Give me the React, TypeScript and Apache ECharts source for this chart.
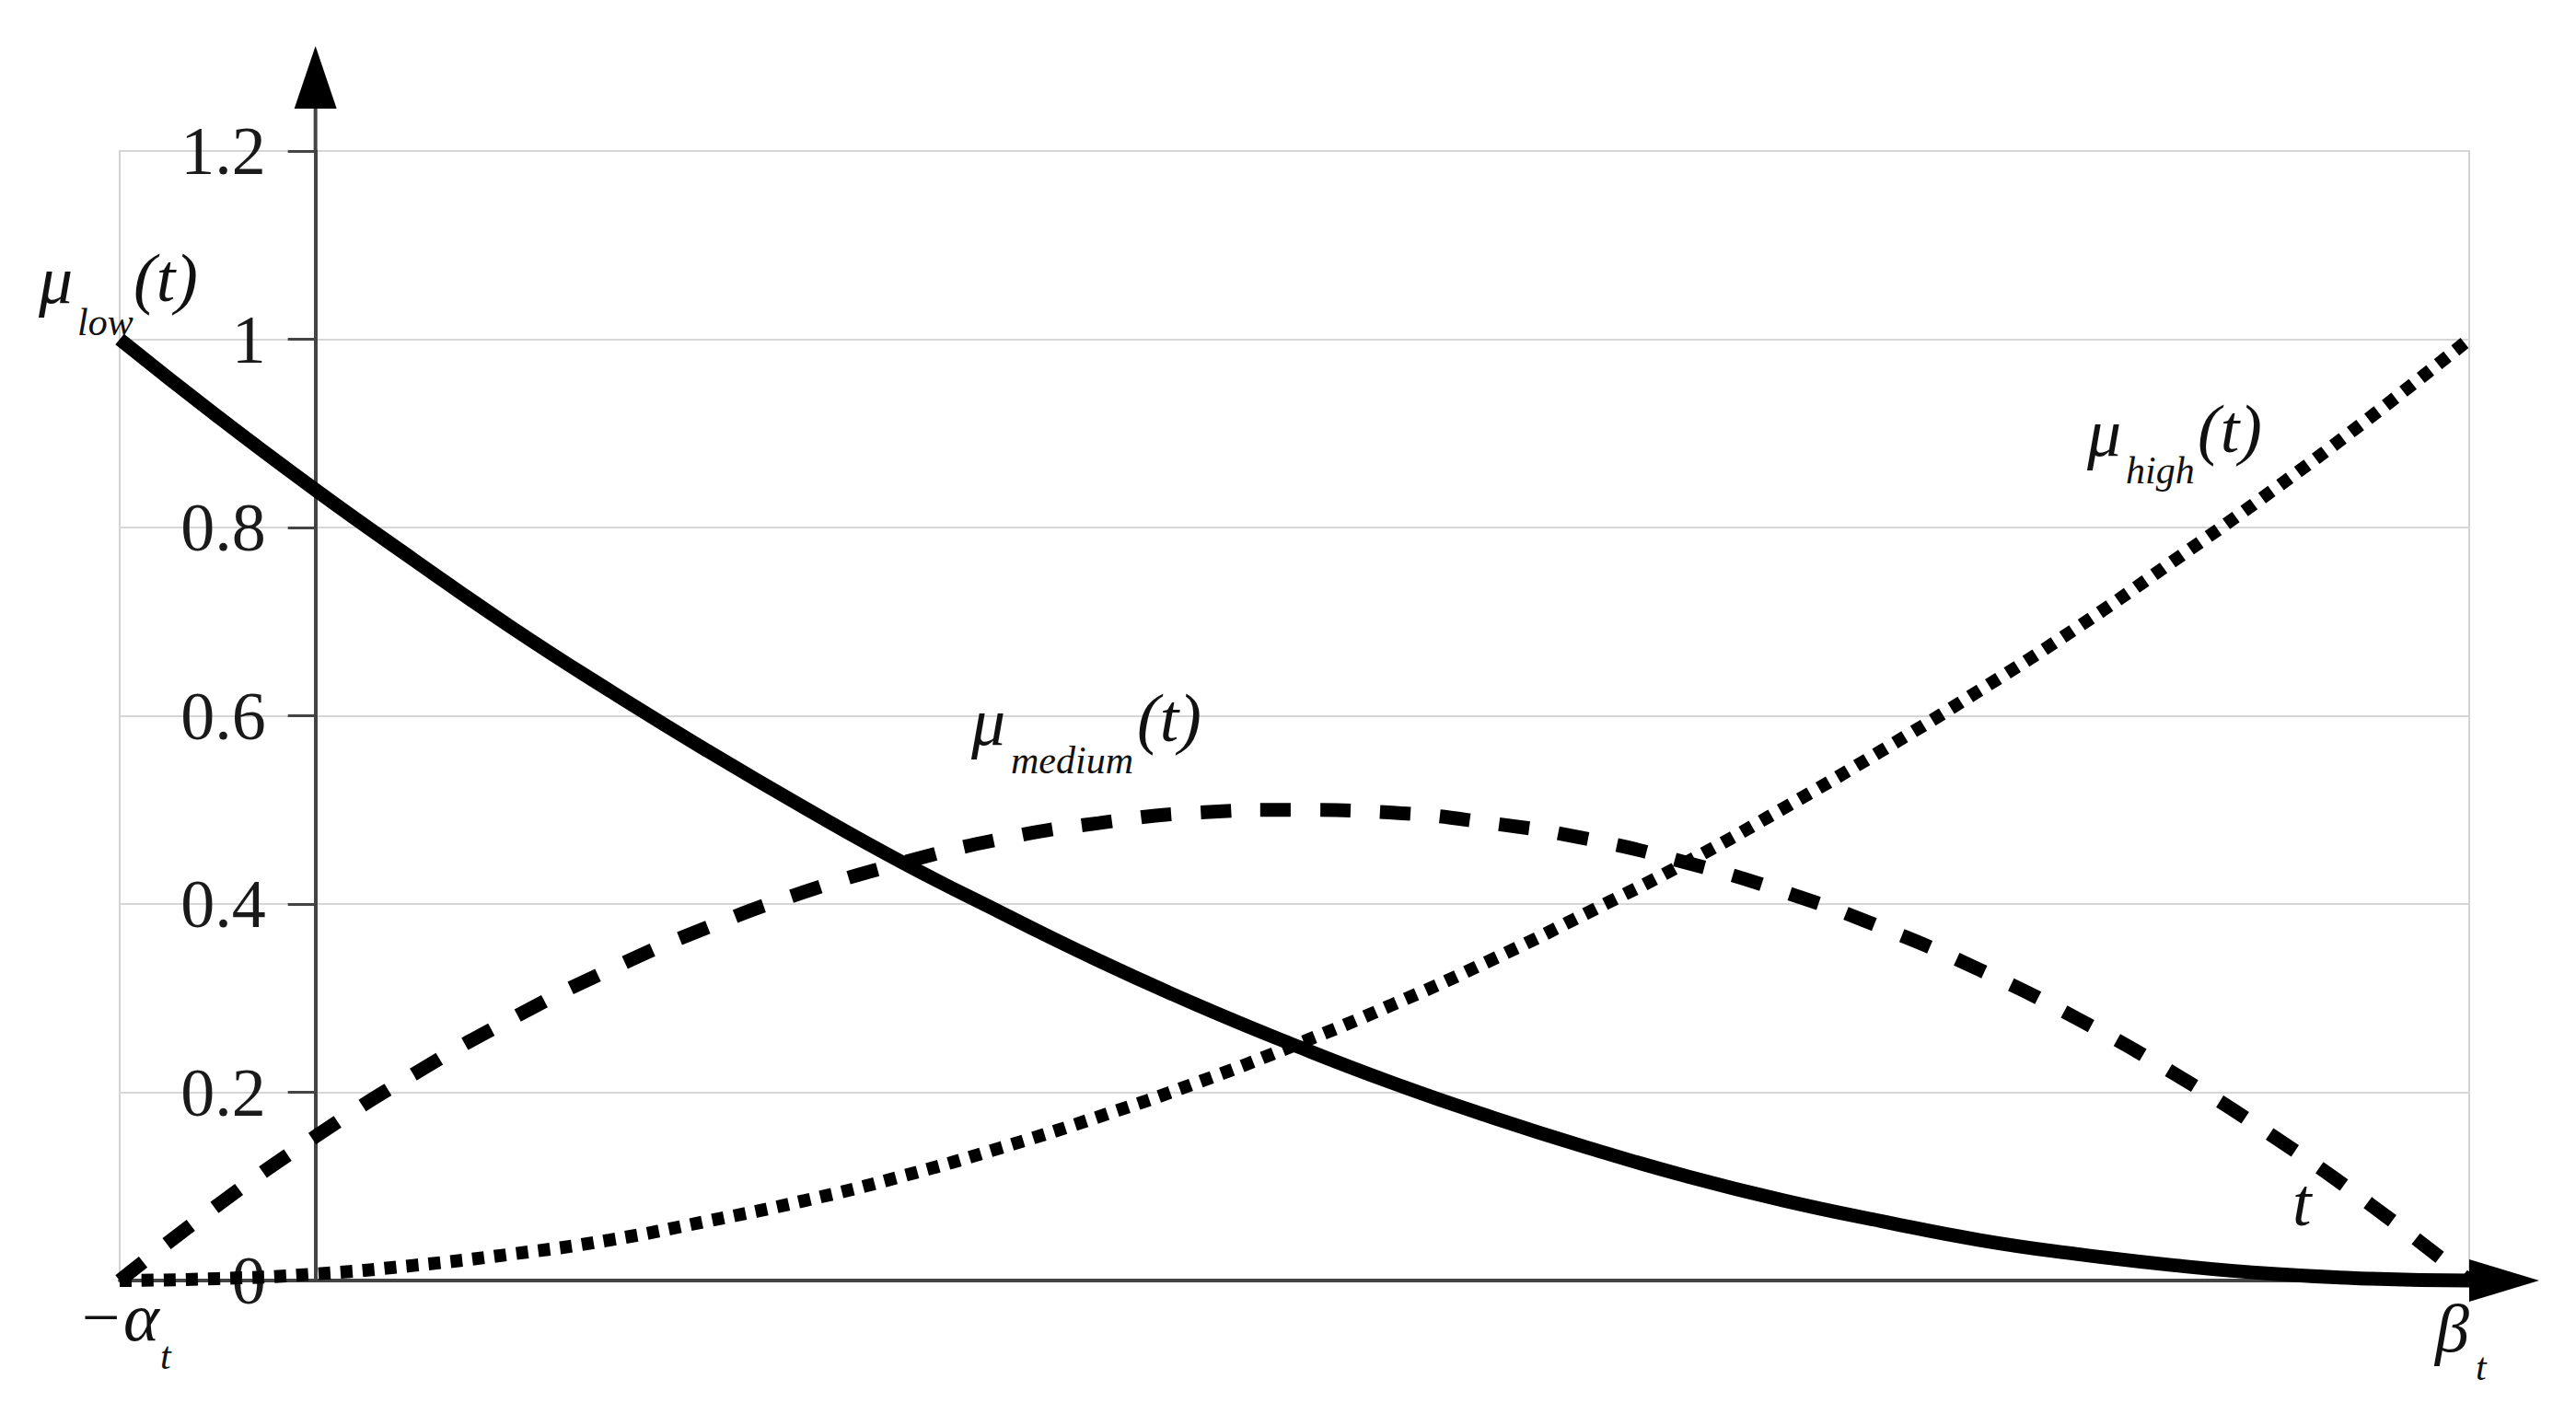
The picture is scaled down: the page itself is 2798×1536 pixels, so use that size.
import React, { useEffect, useRef } from "react";
import * as echarts from "echarts";

// t positions between -alpha_t (=-0.1) and beta_t (=1.1); y axis sits at t = 0
const tValues = [-0.1, -0.05, 0, 0.05, 0.1, 0.15, 0.2, 0.25, 0.3, 0.35, 0.4, 0.45, 0.5, 0.55, 0.6, 0.65, 0.7, 0.75, 0.8, 0.85, 0.9, 0.95, 1.0, 1.05, 1.1];
const muLow = [1, 0.918, 0.84, 0.766, 0.694, 0.627, 0.563, 0.502, 0.444, 0.391, 0.34, 0.293, 0.25, 0.21, 0.174, 0.141, 0.111, 0.085, 0.063, 0.043, 0.028, 0.016, 0.007, 0.002, 0];
const muMedium = [0, 0.08, 0.153, 0.219, 0.278, 0.33, 0.375, 0.413, 0.444, 0.469, 0.486, 0.497, 0.5, 0.497, 0.486, 0.469, 0.444, 0.413, 0.375, 0.33, 0.278, 0.219, 0.153, 0.08, 0];
const muHigh = [0, 0.002, 0.007, 0.016, 0.028, 0.043, 0.063, 0.085, 0.111, 0.141, 0.174, 0.21, 0.25, 0.293, 0.34, 0.391, 0.444, 0.502, 0.563, 0.627, 0.694, 0.766, 0.84, 0.918, 1];
const yTickLabels = ["0", "0.2", "0.4", "0.6", "0.8", "1", "1.2"];
const xMin = -0.1;
const xMax = 1.1;
const yMax = 1.2;

const FONT = '"Liberation Serif", "Times New Roman", serif';
const AXIS_COLOR = "#444";
const GRID_LEFT = 130;

function pairs(vals: number[]) {
  return tValues.map((t, i) => [t, vals[i]]);
}

function txt(text: string, x: number, y: number, size: number, italic = true) {
  return {
    type: "text",
    x,
    y,
    silent: true,
    z: 100,
    style: {
      text,
      fill: "#111",
      fontSize: size,
      fontFamily: FONT,
      fontStyle: italic ? "italic" : "normal",
      align: "left",
      verticalAlign: "middle",
      textAlign: "left",
      textVerticalAlign: "middle",
    },
  };
}

export default function App() {
  const ref = useRef<HTMLDivElement>(null);

  useEffect(() => {
    if (!ref.current) return;
    const chart = echarts.init(ref.current, undefined, { renderer: "svg" });
    chart.setOption({
      animation: false,
      backgroundColor: "#fff",
      grid: {
        left: GRID_LEFT,
        right: 116,
        top: 164,
        bottom: 145,
        show: true,
        borderColor: "#d2d2d2",
        borderWidth: 2,
        backgroundColor: "transparent",
        containLabel: false,
        outerBoundsMode: "none",
      },
      xAxis: {
        type: "value",
        min: xMin,
        max: xMax,
        axisLine: { show: true, onZero: true, lineStyle: { color: AXIS_COLOR, width: 4 } },
        axisTick: { show: false },
        axisLabel: { show: false },
        splitLine: { show: false },
      },
      yAxis: {
        type: "value",
        min: 0,
        max: yMax,
        interval: 0.2,
        axisLine: { show: true, onZero: false, lineStyle: { color: AXIS_COLOR, width: 4 } },
        axisTick: { show: true, length: 30, lineStyle: { color: AXIS_COLOR, width: 3 } },
        axisLabel: {
          show: true,
          margin: 54,
          fontSize: 74,
          fontFamily: FONT,
          color: "#1a1a1a",
          formatter: (_v: number, i: number) => yTickLabels[i] ?? "",
        },
        splitLine: { show: true, lineStyle: { color: "#d6d6d6", width: 2 } },
      },
      series: [
        {
          name: "high",
          type: "line",
          data: pairs(muHigh),
          smooth: true,
          showSymbol: false,
          clip: false,
          z: 3,
          lineStyle: { color: "#000", width: 14, type: [13, 11], cap: "butt" },
        },
        {
          name: "medium",
          type: "line",
          data: pairs(muMedium),
          smooth: true,
          showSymbol: false,
          clip: false,
          z: 4,
          lineStyle: { color: "#000", width: 15, type: [33, 32], cap: "butt" },
        },
        {
          name: "low",
          type: "line",
          data: pairs(muLow),
          smooth: true,
          showSymbol: false,
          clip: false,
          z: 5,
          lineStyle: { color: "#000", width: 15, type: "solid", cap: "butt" },
        },
      ],
    });

    // move the y axis onto t = 0 (line, ticks and labels together)
    const zeroPx = chart.convertToPixel({ xAxisIndex: 0, yAxisIndex: 0 }, [0, 0]) as number[];
    chart.setOption({ yAxis: { offset: -(zeroPx[0] - GRID_LEFT) } });

    const origin = chart.convertToPixel({ xAxisIndex: 0, yAxisIndex: 0 }, [0, 0]) as number[];
    const yTop = chart.convertToPixel({ xAxisIndex: 0, yAxisIndex: 0 }, [0, yMax]) as number[];
    const left = chart.convertToPixel({ xAxisIndex: 0, yAxisIndex: 0 }, [xMin, 0]) as number[];
    const right = chart.convertToPixel({ xAxisIndex: 0, yAxisIndex: 0 }, [xMax, 0]) as number[];

    const graphic: any[] = [
      // y axis extension above the plot and arrow head
      {
        type: "line",
        silent: true,
        z: 50,
        shape: { x1: yTop[0], y1: yTop[1], x2: yTop[0], y2: yTop[1] - 48 },
        style: { stroke: AXIS_COLOR, lineWidth: 4 },
      },
      {
        type: "polygon",
        silent: true,
        z: 50,
        shape: {
          points: [
            [yTop[0] - 23, yTop[1] - 46],
            [yTop[0] + 23, yTop[1] - 46],
            [yTop[0], yTop[1] - 114],
          ],
        },
        style: { fill: "#000" },
      },
      {
        type: "polygon",
        silent: true,
        z: 50,
        shape: {
          points: [
            [right[0], origin[1] - 23],
            [right[0], origin[1] + 23],
            [right[0] + 76, origin[1]],
          ],
        },
        style: { fill: "#000" },
      },
      // curve labels
      txt("μ", 42, 304, 74),
      txt("low", 84, 350, 42),
      txt("(t)", 145, 302, 74),
      txt("μ", 1055, 784, 74),
      txt("medium", 1098, 826, 42),
      txt("(t)", 1235, 780, 74),
      txt("μ", 2267, 470, 74),
      txt("high", 2309, 511, 42),
      txt("(t)", 2387, 466, 74),
      txt("t", 2490, 1306, 74),
      // axis end labels
      txt("−α", left[0] - 46, left[1] + 40, 74),
      txt("t", left[0] + 44, left[1] + 82, 42),
      txt("β", right[0] - 37, right[1] + 52, 74),
      txt("t", right[0] + 7, right[1] + 94, 42),
    ];
    chart.setOption({ graphic });

    return () => chart.dispose();
  }, []);

  return (
    <div
      ref={ref}
      style={{ position: "absolute", left: 0, top: 0, width: 2798, height: 1536 }}
    />
  );
}
